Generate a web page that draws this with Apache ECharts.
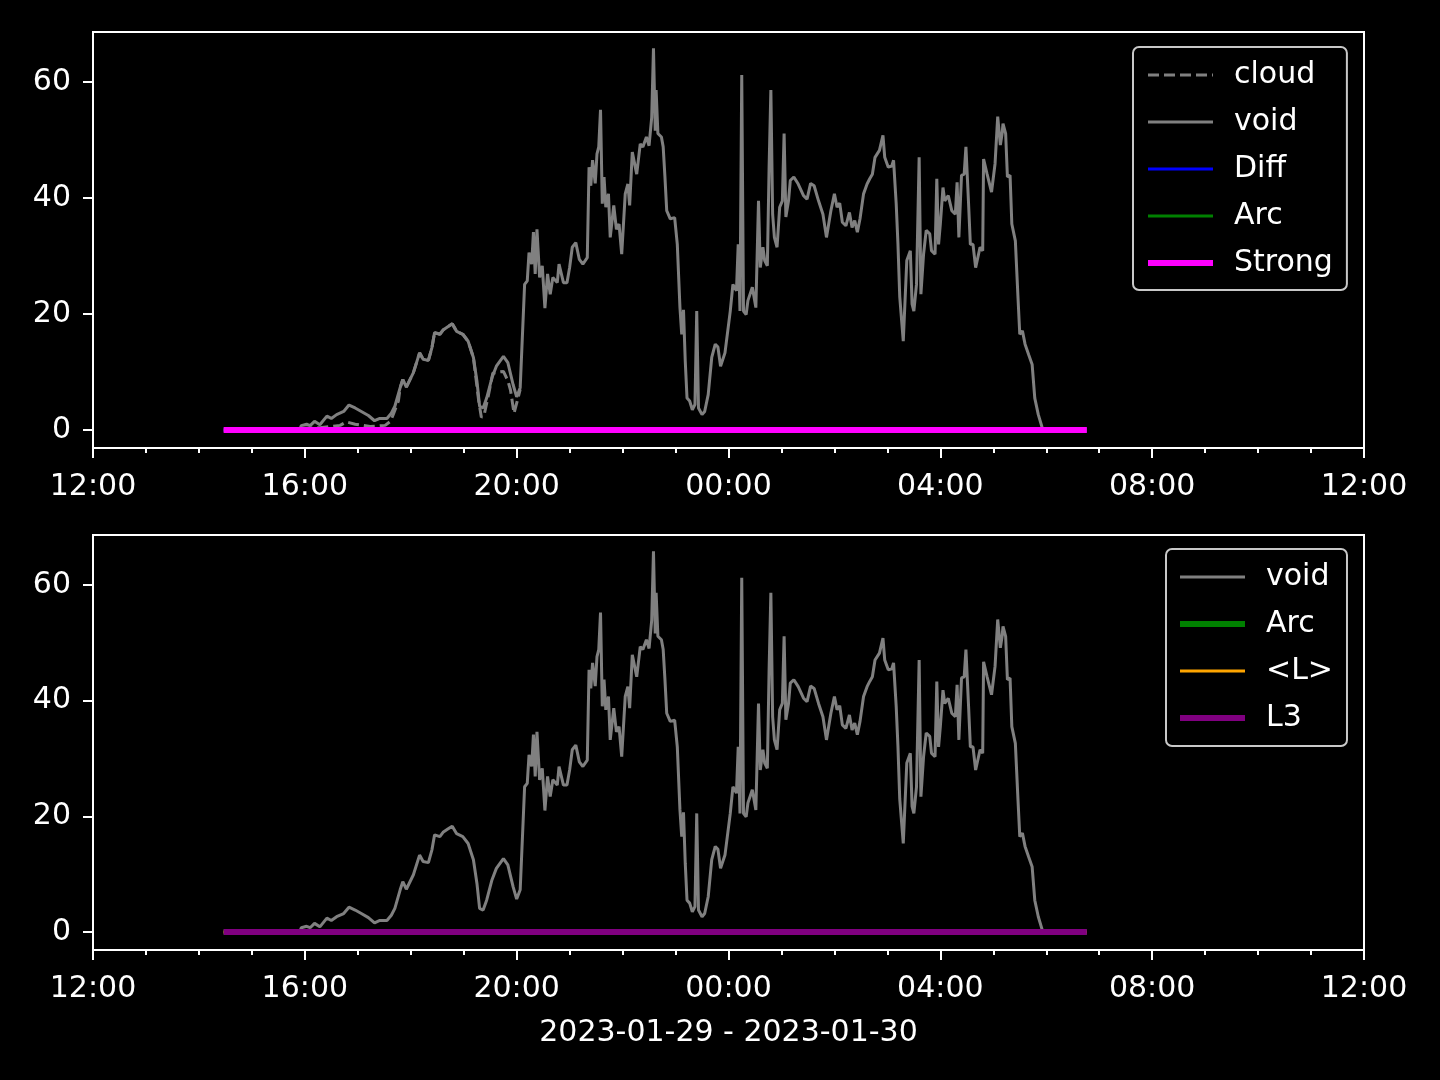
<!DOCTYPE html>
<html>
<head>
<meta charset="utf-8">
<script src="https://cdn.jsdelivr.net/npm/echarts@6/dist/echarts.min.js"></script>
<style>
html,body{margin:0;padding:0;background:#000;}
#chart{width:1440px;height:1080px;}
</style>
</head>
<body>
<div id="chart"></div>
<script>
// minutes after 2023-01-29 12:00
const voidMin = [148,234,236,242,246,251,257,265,270,276,284,290,297,304,312,319,325,333,338,342,348,351,355,363,370,374,380,384,387,393,397,402,407,412,419,425,431,435,438,442,446,452,457,465,470,476,480,484,489,492,494,497,499,501,503,506,509,512,515,518,521,526,528,533,537,540,543,547,551,555,560,562,564,566,569,571,573,575,577,579,581,584,586,590,593,596,599,603,606,608,611,616,620,623,627,630,633,635,637,638,640,644,646,648,650,654,659,662,665,667,669,671,673,676,679,682,684,686,690,693,697,701,705,708,711,716,722,725,729,731,733,735,737,740,742,747,751,754,756,759,761,764,766,768,770,772,775,778,781,783,785,788,790,794,799,805,809,813,817,822,827,831,836,840,843,846,849,853,857,860,863,866,869,873,877,880,883,886,891,895,897,901,905,907,910,912,914,918,922,926,928,930,933,936,938,941,944,948,950,954,956,958,960,963,965,969,973,977,979,981,984,987,989,992,994,997,1000,1005,1008,1009,1013,1015,1018,1022,1025,1028,1030,1031,1034,1036,1039,1041,1045,1048,1050,1053,1056,1060,1064,1067,1071,1075,1076,1126];
const voidVal = [0,0,0.75,1.0,0.75,1.5,0.9,2.4,2.0,2.65,3.2,4.3,3.8,3.2,2.5,1.6,2.0,2.0,2.9,4.1,7.3,8.7,7.4,9.9,13.3,12.2,12.0,14.2,16.8,16.5,17.3,17.8,18.3,17.0,16.5,15.3,12.5,8.4,4.1,3.8,5.5,9.0,11.0,12.7,11.6,7.8,5.7,7.3,25.1,25.7,30.6,28.6,34.1,26.9,34.6,26.3,28.3,21.0,26.9,23.4,26.3,25.4,28.6,25.4,25.4,28.0,31.5,32.3,29.4,28.6,29.7,45.3,42.1,46.5,42.5,47.6,48.8,55.2,39.0,43.6,38.4,40.7,33.2,38.7,34.6,35.5,30.3,40.7,42.4,38.7,47.9,44.1,49.3,48.8,50.5,49.0,53.9,65.8,51.6,58.6,51.1,50.5,48.8,43.6,37.8,36.4,36.6,32.0,21.1,16.5,20.7,11.9,5.5,5.0,3.5,4.4,20.5,3.8,2.65,3.2,6.1,12.5,14.8,14.3,11.0,13.3,20.5,25.1,24.0,32.0,20.5,61.2,20.5,19.9,22.3,24.6,21.1,39.5,28.0,31.5,29.2,28.3,45.3,58.6,37.2,33.2,31.5,38.4,39.5,51.1,36.7,39.5,43.0,43.6,42.4,40.4,39.8,42.5,42.1,39.5,37.2,33.2,37.8,40.7,38.4,39.1,35.8,35.2,37.5,34.9,36.1,34.1,36.4,40.7,42.4,43.3,44.1,47.0,48.2,50.8,47.0,45.3,45.5,46.5,39.0,32.0,23.0,15.3,29.2,30.9,21.7,20.5,25.1,47.0,23.4,30.3,34.4,33.8,30.9,30.3,43.3,32.0,35.5,41.8,39.5,40.4,37.8,37.2,42.7,33.2,43.9,44.1,48.8,39.0,32.0,32.0,28.0,31.5,30.9,46.7,44.1,43.9,41.0,45.9,54.0,49.1,51.1,52.8,51.1,43.6,43.9,35.5,32.6,22.8,16.5,17.1,14.8,13.0,11.3,5.5,2.65,0.6,0,0];

const cloudMin = [236,257,280,287,297,314,331,337,340,346,348,351,355,363,370,374,380,384,387,393,397,402,407,412,419,425,431,437,440,443,448,453,460,465,470,473,477,481,484];
const cloudVal = [0.3,0.4,0.8,1.4,1.0,0.6,0.8,1.5,2.6,5.0,7.3,8.7,7.4,9.9,13.3,12.2,12.0,14.2,16.8,16.5,17.3,17.8,18.3,17.0,16.5,15.3,12.5,5.0,2.2,2.5,6.0,9.8,10.0,10.1,8.5,6.9,2.9,5.2,7.0];

const flatMin = [148,1126];
const strongVal = [0,0];
const diffVal = [0,0];
const arcVal = [0,0];
const lMeanVal = [0,0];
const l3Val = [0,0];

const xTickHours = [0,4,8,12,16,20,24];
const xMinorHours = [0,1,2,3,4,5,6,7,8,9,10,11,12,13,14,15,16,17,18,19,20,21,22,23,24];
const yTicks = [0,20,40,60];
const xTitle = '2023-01-29 - 2023-01-30';

const T0 = new Date(2023,0,29,12,0,0).getTime();
const T1 = T0 + 24*3600000;
const toData = (mins, vals) => mins.map((m,i)=>[T0 + m*60000, vals[i]]);
const majorVals = xTickHours.map(h=>T0+h*3600000);
const minorVals = xMinorHours.map(h=>T0+h*3600000);
const pad = n => (n<10?'0':'')+n;
const fmt = v => { const d = new Date(v); return pad(d.getHours())+':'+pad(d.getMinutes()); };

const FONT = 'DejaVu Sans';
const grids = [
  {left:93, top:32, width:1271, height:416},
  {left:93, top:535, width:1271, height:415}
];

function mainX(gi, withName){
  const o = {
    type:'value', gridIndex:gi, min:T0, max:T1, position:'bottom', scale:true,
    axisLine:{show:false, onZero:false},
    splitLine:{show:false},
    axisTick:{show:true, inside:false, customValues:majorVals, length:10, lineStyle:{color:'#fff', width:2}},
    axisLabel:{show:true, customValues:majorVals, formatter:fmt, color:'#fff', fontSize:30, fontFamily:FONT, margin:24, showMinLabel:true, showMaxLabel:true},
    minorTick:{show:false}
  };
  if (withName){
    o.name = xTitle; o.nameLocation='middle'; o.nameGap=68;
    o.nameTextStyle = {color:'#fff', fontSize:30, fontFamily:FONT};
  }
  return o;
}
function minorX(gi){
  return {
    type:'value', gridIndex:gi, min:T0, max:T1, position:'bottom', scale:true,
    axisLine:{show:false, onZero:false}, splitLine:{show:false},
    axisTick:{show:true, inside:false, customValues:minorVals, length:5, lineStyle:{color:'#fff', width:2}},
    axisLabel:{show:false}
  };
}
function yAx(gi){
  return {
    type:'value', gridIndex:gi, min:-3.1, max:68.6,
    axisLine:{show:false, onZero:false}, splitLine:{show:false},
    axisTick:{show:true, customValues:yTicks, length:10, lineStyle:{color:'#fff', width:2}},
    axisLabel:{show:true, customValues:yTicks, color:'#fff', fontSize:30, fontFamily:FONT, margin:22, padding:[4,0,0,0]}
  };
}
function line(name, xi, yi, data, color, width, type, z){
  return {
    name, type:'line', xAxisIndex:xi, yAxisIndex:yi, data,
    showSymbol:false, symbol:'none', silent:true, z:z,
    lineStyle:{color, width, type: type||'solid', cap:'butt'},
    itemStyle:{color},
    emphasis:{disabled:true}
  };
}
function legItem(name, color, width, type){
  return {name, lineStyle:{color, width, type:type||'solid', opacity:1},
          itemStyle:{color:'rgba(0,0,0,0)', borderWidth:0, opacity:0}};
}

const legendCommon = {
  orient:'vertical', backgroundColor:'#000', borderColor:'#c8c8c8', borderWidth:2, borderRadius:6,
  itemWidth:65, itemHeight:2, itemGap:17, selectedMode:false,
  itemStyle:{color:'rgba(0,0,0,0)', borderWidth:0, opacity:0},
  textStyle:{color:'#fff', fontSize:30, fontFamily:FONT, lineHeight:30, padding:[0,0,0,16]}
};

const option = {
  backgroundColor:'#000',
  animation:false,
  grid: grids.map(g=>Object.assign({show:true, borderColor:'#fff', borderWidth:2, backgroundColor:'#000', containLabel:false, outerBoundsMode:'none'}, g)),
  xAxis:[mainX(0,false), minorX(0), mainX(1,true), minorX(1)],
  yAxis:[yAx(0), yAx(1)],
  legend:[
    Object.assign({}, legendCommon, {left:1133, top:47, padding:[13,14,12,12],
      data:[legItem('cloud','#808080',3,[11,5]), legItem('void','#808080',3), legItem('Diff','#0000ff',3),
            legItem('Arc','#008000',3), legItem('Strong','#ff00ff',6)]}),
    Object.assign({}, legendCommon, {left:1166, top:549, padding:[13,14,13,11],
      data:[legItem('void','#808080',3), legItem('Arc','#008000',6), legItem('<L>','#ffa500',3), legItem('L3','#800080',6)]})
  ],
  series:[
    line('cloud',0,0,toData(cloudMin,cloudVal),'#808080',3,[11,5],2),
    line('void',0,0,toData(voidMin,voidVal),'#808080',3,'solid',3),
    line('Diff',0,0,toData(flatMin,diffVal),'#0000ff',3,'solid',4),
    line('Arc',0,0,toData(flatMin,arcVal),'#008000',3,'solid',5),
    line('Strong',0,0,toData(flatMin,strongVal),'#ff00ff',6,'solid',6),
    line('void',2,1,toData(voidMin,voidVal),'#808080',3,'solid',3),
    line('Arc',2,1,toData(flatMin,arcVal),'#008000',6,'solid',4),
    line('<L>',2,1,toData(flatMin,lMeanVal),'#ffa500',3,'solid',5),
    line('L3',2,1,toData(flatMin,l3Val),'#800080',6,'solid',6)
  ]
};
const chart = echarts.init(document.getElementById('chart'), null, {renderer:'canvas'});
chart.setOption(option);
</script>
</body>
</html>
